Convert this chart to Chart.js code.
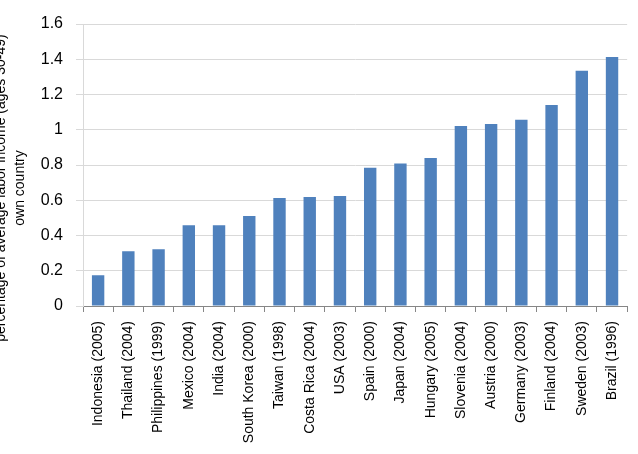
<!DOCTYPE html>
<html>
<head>
<meta charset="utf-8">
<script src="https://cdn.jsdelivr.net/npm/chart.js@4"></script>
<style>
  html, body { margin: 0; padding: 0; background: #fff; }
  #wrap { width: 638px; height: 454px; }
</style>
</head>
<body>
<div id="wrap"><canvas id="barChart" width="638" height="454"></canvas></div>
<script>
// data
const countries = ['Indonesia (2005)', 'Thailand (2004)', 'Philippines (1999)', 'Mexico (2004)',
    'India (2004)', 'South Korea (2000)', 'Taiwan (1998)', 'Costa Rica (2004)', 'USA (2003)',
    'Spain (2000)', 'Japan (2004)', 'Hungary (2005)', 'Slovenia (2004)', 'Austria (2000)',
    'Germany (2003)', 'Finland (2004)', 'Sweden (2003)', 'Brazil (1996)'];
const values = [0.174, 0.31, 0.322, 0.458, 0.458, 0.511, 0.613, 0.618, 0.624,
    0.785, 0.809, 0.84, 1.021, 1.033, 1.057, 1.14, 1.335, 1.413];
const yTitleLines = ['percentage of average labor income (ages 30-49)', 'own country'];

const FONT = "'Liberation Sans', Arial, sans-serif";

// y axis title, drawn by hand so the first line can be clipped like in the original
const yTitlePlugin = {
    id: 'yTitle',
    afterDraw(chart) {
        const ctx = chart.ctx;
        ctx.save();
        ctx.fillStyle = '#000';
        ctx.font = '14px ' + FONT;
        ctx.textAlign = 'center';
        ctx.textBaseline = 'middle';
        const xs = [1, 20];
        yTitleLines.forEach((line, i) => {
            ctx.save();
            ctx.translate(xs[i], 188);
            ctx.rotate(-Math.PI / 2);
            ctx.fillText(line, 0, 0);
            ctx.restore();
        });
        ctx.restore();
    }
};

new Chart(document.getElementById('barChart'), {
    type: 'bar',
    data: {
        labels: countries,
        datasets: [{
            data: values,
            backgroundColor: '#4f81bd',
            borderWidth: 0,
            categoryPercentage: 1,
            barPercentage: 0.41
        }]
    },
    options: {
        responsive: false,
        animation: false,
        layout: { padding: { top: 24, right: 6, left: 0, bottom: 0 } },
        plugins: { legend: { display: false }, tooltip: { enabled: false } },
        scales: {
            x: {
                afterFit(scale) { scale.height = 148; },
                grid: {
                    display: true, drawOnChartArea: false, drawTicks: true,
                    tickLength: 6, color: '#868686', offset: true
                },
                border: { color: '#868686', width: 1 },
                ticks: {
                    minRotation: 90, maxRotation: 90, autoSkip: false,
                    padding: 9, color: '#000', font: { family: FONT, size: 14 }
                }
            },
            y: {
                min: 0, max: 1.6,
                afterFit(scale) { scale.width = 83; },
                grid: { color: '#d9d9d9', tickLength: 7 },
                border: { color: '#d9d9d9' },
                ticks: {
                    stepSize: 0.2, padding: 13, color: '#000',
                    font: { family: FONT, size: 16 },
                    callback: v => String(+v.toFixed(1))
                }
            }
        }
    },
    plugins: [yTitlePlugin]
});
</script>
</body>
</html>
